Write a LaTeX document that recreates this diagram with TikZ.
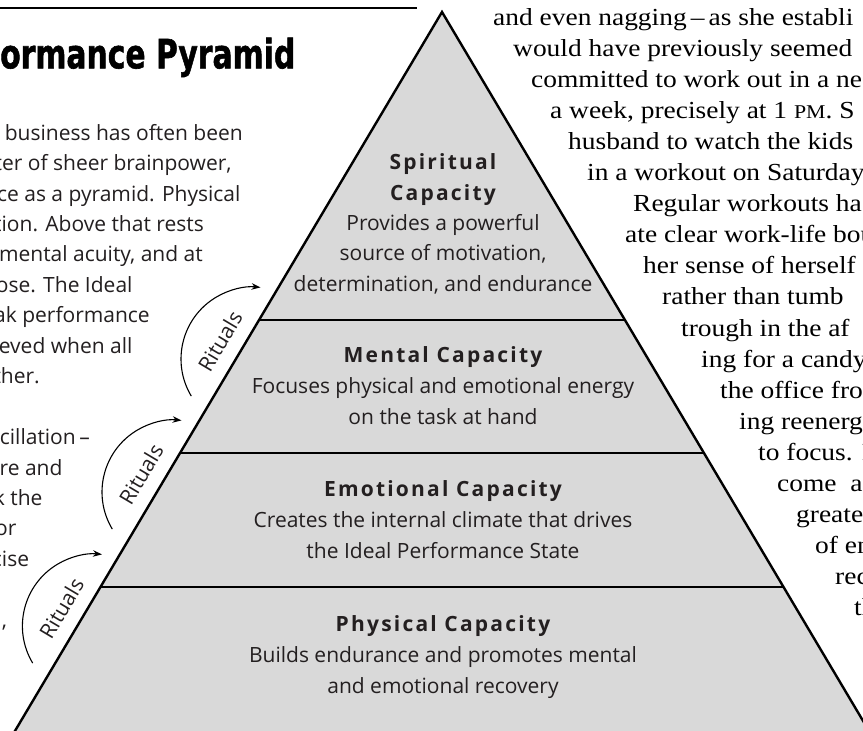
\documentclass[tikz,border=0pt]{standalone}
\usepackage{fontspec}
\usepackage{graphicx}
\usetikzlibrary{arrows.meta}
\setmainfont{Open Sans}
\newfontfamily\sansfont{Open Sans}
\newfontfamily\boldsans[LetterSpace=10.5]{Open Sans}
\newfontfamily\serifont[FakeStretch=1.12]{Liberation Serif}
\newfontfamily\titlefont[BoldFeatures={FakeBold=1.5}]{DejaVu Sans}
\definecolor{ink}{HTML}{231F20}
\definecolor{pyr}{HTML}{D9D9D9}
\tikzset{
  edge/.style={line width=2.4pt, draw=black},
  tiertext/.style={anchor=base, inner sep=0, align=center, text=ink},
  lefttxt/.style={anchor=base east, inner sep=0, text=ink, font=\sansfont\fontsize{21}{24}\selectfont},
  righttxt/.style={anchor=base west, inner sep=0, text=black, font=\serifont\fontsize{24.5}{28}\selectfont},
  ritlabel/.style={inner sep=0, text=ink, font=\sansfont\fontsize{21}{24}\selectfont, rotate=59.3},
  ritarrow/.style={line width=1.1pt, -{Stealth[length=9pt,width=6.5pt]}},
}
\newcommand{\tb}[1]{{\boldsans\bfseries #1}}
\begin{document}
\begin{tikzpicture}[x=1pt,y=-1pt]
\useasboundingbox (0,0) rectangle (863,731);
\fill[white] (0,0) rectangle (863,731);
\begin{scope}
\clip (0,0) rectangle (863,731);
% pyramid
\coordinate (apex) at (442,12);
\coordinate (bl) at (9.6,740);
\coordinate (br) at (874.4,740);
\fill[pyr] (apex) -- (bl) -- (br) -- cycle;
\draw[edge] (bl) -- (apex) -- (br);
\coordinate (t1l) at (259.05,320); \coordinate (t1r) at (624.95,320);
\coordinate (t2l) at (180.05,453); \coordinate (t2r) at (703.95,453);
\coordinate (t3l) at (100.45,587); \coordinate (t3r) at (783.55,587);
\draw[edge] (t1l) -- (t1r);
\draw[edge] (t2l) -- (t2r);
\draw[edge] (t3l) -- (t3r);
% tier texts (base anchor = baseline of last line)
\node[tiertext, font=\sansfont\fontsize{21}{30.3}\selectfont] (spirit) at (443,291)
  {\tb{Spiritual}\\\tb{Capacity}\\Provides a powerful\\source of motivation,\\determination, and endurance};
\node[tiertext, font=\sansfont\fontsize{21}{31}\selectfont] (mental) at (443,424)
  {\tb{Mental Capacity}\\Focuses physical and emotional energy\\on the task at hand};
\node[tiertext, font=\sansfont\fontsize{21}{31}\selectfont] (emot) at (443,558)
  {\tb{Emotional Capacity}\\Creates the internal climate that drives\\the Ideal Performance State};
\node[tiertext, font=\sansfont\fontsize{21}{31}\selectfont] (phys) at (443,693)
  {\tb{Physical Capacity}\\Builds endurance and promotes mental\\and emotional recovery};
% top rule and title
\coordinate (ruleL) at (0,8.3);
\coordinate (ruleR) at (417,8.3);
\draw[line width=2pt] (ruleL) -- (ruleR);
\node[anchor=base west, inner sep=0] (title) at (0,68.3)
  {\resizebox{295pt}{30.6pt}{\titlefont\bfseries ormance Pyramid}};
% left paragraph
\node[lefttxt] (l0) at (243,140) {n business has often been};
\node[lefttxt] (l1) at (231.7,170.5) {ter of sheer brainpower,};
\node[lefttxt] (l2) at (240.7,201) {ce as a pyramid. Physical};
\node[lefttxt] (l3) at (204,231.4) {tion. Above that rests};
\node[lefttxt] (l4) at (203,261.8) {mental acuity, and at};
\node[lefttxt] (l5) at (132.7,292.3) {ose. The Ideal};
\node[lefttxt] (l6) at (150,322.7) {ak performance};
\node[lefttxt] (l7) at (132.7,353.2) {eved when all};
\node[lefttxt] (l8) at (40,383.6) {ther.};
\node[lefttxt] (l10) at (90,444.5) {cillation\,–};
\node[lefttxt] (l11) at (62.7,475) {re and};
\node[lefttxt] (l12) at (42.7,505.4) {k the};
\node[lefttxt] (l13) at (16.7,535.9) {or};
\node[lefttxt] (l14) at (29.3,566.3) {cise};
\node[lefttxt] (l16) at (7.3,627.2) {l,};
% right paragraph
\node[righttxt] (r0) at (493,25) {and even nagging\,–\,as she establi};
\node[righttxt] (r1) at (513,56.1) {would have previously seemed};
\node[righttxt] (r2) at (531,87.2) {committed to work out in a ne};
\node[righttxt] (r3) at (550,118.3) {a week, precisely at 1 {\fontsize{19.5}{28}\selectfont PM}. S};
\node[righttxt] (r4) at (568,149.4) {husband to watch the kids};
\node[righttxt] (r5) at (587,180.5) {in a workout on Saturday};
\node[righttxt] (r6) at (633,211.6) {Regular workouts ha};
\node[righttxt] (r7) at (625,242.7) {ate clear work-life bou};
\node[righttxt] (r8) at (643,273.8) {her sense of herself};
\node[righttxt] (r9) at (662,304.9) {rather than tumb};
\node[righttxt] (r10) at (681,336) {trough in the af};
\node[righttxt] (r11) at (701,367.1) {ing for a candy};
\node[righttxt] (r12) at (720,398.2) {the office fro};
\node[righttxt] (r13) at (739,429.3) {ing reenerg};
\node[righttxt] (r14) at (758,460.4) {to focus. P};
\node[righttxt] (r15) at (777,491.5) {come\ \ a};
\node[righttxt] (r16) at (796,522.6) {greate};
\node[righttxt] (r17) at (815,553.7) {of en};
\node[righttxt] (r18) at (835,584.8) {rec};
\node[righttxt] (r19) at (854,615.9) {th};
% rituals
\node[ritlabel] (rit1) at (220,341) {Rituals};
\node[ritlabel] (rit2) at (141,474) {Rituals};
\node[ritlabel] (rit3) at (61.4,608) {Rituals};
\coordinate (a1s) at (191.3,396.1);
\coordinate (a2s) at (112.3,529.1);
\coordinate (a3s) at (32.7,663.1);
\draw[ritarrow] (a1s) arc[start angle=211, end angle=84, radius=72pt];
\draw[ritarrow] (a2s) arc[start angle=211, end angle=84, radius=72pt];
\draw[ritarrow] (a3s) arc[start angle=211, end angle=84, radius=72pt];
\end{scope}
\end{tikzpicture}
\end{document}
